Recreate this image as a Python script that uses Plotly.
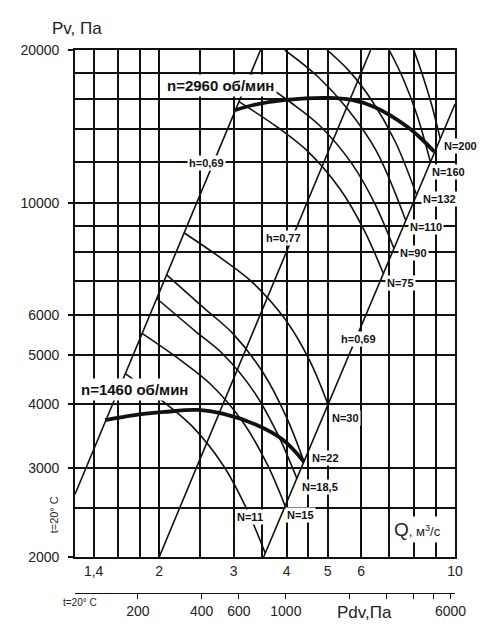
import numpy as np
import plotly.graph_objects as go

# ---------------- axes / ticks ----------------
q_range = [1.265, 10.0]
p_range = [2000, 20000]
q_tick_vals = [1.4, 2, 3, 4, 5, 6, 10]
q_tick_text = ["1,4", "2", "3", "4", "5", "6", "10"]
q_grid_vals = [1.6, 1.8, 2.5, 3.5, 4.5, 7, 8, 9]
p_tick_vals = [2000, 3000, 4000, 5000, 6000, 10000, 20000]
p_tick_text = ["2000", "3000", "4000", "5000", "6000", "10000", "20000"]
p_grid_vals = [2500, 7000, 8000, 9000, 12000, 14000, 16000, 18000]
pdv_range = [100.8, 6300]
pdv_tick_vals = [200, 400, 600, 1000, 6000]
pdv_tick_text = ["200", "400", "600", "1000", "6000"]
pdv_minor_vals = [2000, 3000, 4000, 5000]

# ---------------- fan curves (thick) ----------------
n1460_q = [1.49, 1.75, 2.06, 2.46, 2.84, 3.39, 3.92, 4.40]
n1460_p = [3725, 3810, 3865, 3900, 3830, 3645, 3405, 3080]
n2960_q = [3.03, 3.34, 3.98, 5.04, 5.70, 6.45, 7.73, 8.29, 8.94]
n2960_p = [15230, 15580, 15940, 16090, 15940, 15440, 14100, 13410, 12600]

# ---------------- efficiency lines ----------------
h069_left_q = [1.265, 3.471]
h069_left_p = [2660, 20000]
h077_q = [2.0, 6.32]
h077_p = [2000, 20000]
h069_right_q = [3.53, 10.0]
h069_right_p = [2000, 15650]

# ---------------- power lines N ----------------
n11_q = [1.663, 2.045, 2.388, 2.832, 3.208, 3.56]
n11_p = [4600, 4050, 3627, 3034, 2502, 2037]
n15_q = [1.822, 2.257, 2.650, 3.162, 3.596, 3.97]
n15_p = [5520, 4875, 4378, 3681, 3052, 2520]
n185_q = [1.974, 2.428, 2.835, 3.361, 3.809, 4.23]
n185_p = [6470, 5587, 5018, 4220, 3498, 2857]
n22_q = [2.083, 2.557, 2.984, 3.533, 3.999, 4.40]
n22_p = [7200, 6185, 5521, 4597, 3770, 3080]
n30_q = [2.293, 2.841, 3.336, 3.981, 4.527, 5.01]
n30_p = [8710, 7705, 6940, 5868, 4894, 4000]
n75_q = [3.087, 3.82, 4.49, 5.36, 6.11, 6.78]
n75_p = [15820, 14050, 12620, 10610, 8797, 7230]
n90_q = [3.287, 4.07, 4.78, 5.70, 6.48, 7.175]
n90_p = [17935, 15810, 14210, 11950, 9913, 8120]
n110_q = [3.96, 4.725, 5.55, 6.516, 7.65]
n110_p = [20000, 17770, 15370, 12645, 9218]
n132_q = [4.986, 5.64, 6.377, 7.213, 8.10]
n132_p = [20000, 18130, 15850, 13230, 10400]
n160_q = [6.987, 7.53, 8.12, 8.75]
n160_p = [20000, 17610, 14930, 12020]
n200_q = [7.99, 8.38, 8.796, 9.23]
n200_p = [20000, 17860, 15650, 13360]

power_lines = [
    ("N=11", n11_q, n11_p),
    ("N=15", n15_q, n15_p),
    ("N=18,5", n185_q, n185_p),
    ("N=22", n22_q, n22_p),
    ("N=30", n30_q, n30_p),
    ("N=75", n75_q, n75_p),
    ("N=90", n90_q, n90_p),
    ("N=110", n110_q, n110_p),
    ("N=132", n132_q, n132_p),
    ("N=160", n160_q, n160_p),
    ("N=200", n200_q, n200_p),
]

INK = "#111111"
FONT = "Liberation Sans, Arial, sans-serif"
GRID_W = 1.7
fig = go.Figure()

for name, qs, ps in power_lines:
    fig.add_trace(go.Scatter(x=qs, y=ps, mode="lines", name=name,
                             line=dict(color=INK, width=1.6, shape="spline"),
                             hoverinfo="skip", showlegend=False))

for qs, ps in [(h069_left_q, h069_left_p), (h077_q, h077_p), (h069_right_q, h069_right_p)]:
    fig.add_trace(go.Scatter(x=qs, y=ps, mode="lines",
                             line=dict(color=INK, width=1.6),
                             hoverinfo="skip", showlegend=False))

for qs, ps in [(n1460_q, n1460_p), (n2960_q, n2960_p)]:
    fig.add_trace(go.Scatter(x=qs, y=ps, mode="lines",
                             line=dict(color=INK, width=3.8, shape="spline"),
                             hoverinfo="skip", showlegend=False))

# invisible trace to carry the dynamic-pressure axis
fig.add_trace(go.Scatter(x=[pdv_tick_vals[0], pdv_tick_vals[-1]], y=[3000, 3000],
                         xaxis="x2", yaxis="y", mode="markers",
                         marker=dict(opacity=0), hoverinfo="skip", showlegend=False))

L = np.log10
ann = []
lab_font = dict(family=FONT, size=11, color=INK)

# N labels anchored at the right end of each power line
n_offsets = {
    "N=15": (0, -9), "N=18,5": (3, -9), "N=22": (6, 4), "N=30": (2, -14),
    "N=75": (1, -9), "N=90": (4, -5), "N=110": (2, -6), "N=132": (5, -5),
    "N=160": (0, -10), "N=200": (2, -7),
}
for name, qs, ps in power_lines:
    if name in n_offsets:
        dx, dy = n_offsets[name]
        ann.append(dict(x=L(qs[-1]), y=L(ps[-1]), xref="x", yref="y",
                        text="<b>%s</b>" % name, showarrow=False,
                        xanchor="left", yanchor="middle", xshift=dx, yshift=dy,
                        font=lab_font, bgcolor="white", borderpad=1))
ann.append(dict(x=L(3.27), y=L(2400), xref="x", yref="y", text="<b>N=11</b>",
                showarrow=False, font=lab_font, bgcolor="white", borderpad=1))

for txt, q, p in [("h=0,69", 2.594, 11970), ("h=0,77", 3.94, 8515), ("h=0,69", 5.916, 5383)]:
    ann.append(dict(x=L(q), y=L(p), xref="x", yref="y", text="<b>%s</b>" % txt,
                    showarrow=False, font=lab_font, bgcolor="white", borderpad=1))

big_font = dict(family=FONT, size=15, color=INK)
ann.append(dict(x=L(2.796), y=L(17060), xref="x", yref="y", text="<b>n=2960 об/мин</b>",
                showarrow=False, font=big_font, bgcolor="white", borderpad=2))
ann.append(dict(x=L(1.746), y=L(4270), xref="x", yref="y", text="<b>n=1460 об/мин</b>",
                showarrow=False, font=big_font, bgcolor="white", borderpad=2))

ann.append(dict(x=L(8.15), y=L(2261), xref="x", yref="y",
                text="<span style='font-size:19px'>Q</span>, м<sup>3</sup>/с",
                showarrow=False, bgcolor="white", borderpad=2,
                font=dict(family=FONT, size=13, color="#222")))

txt_font = dict(family=FONT, color="#222")
# axis title above the left border, anchored on the Q axis
ann.append(dict(x=L(1.279), y=1.0405, xref="x", yref="paper", text="Pv, Па",
                showarrow=False, xanchor="center", yanchor="middle",
                font=dict(txt_font, size=17)))
ann.append(dict(x=0.684, y=-0.035, xref="paper", yref="paper", text="Pdv,Па",
                showarrow=False, xanchor="left", yanchor="middle",
                font=dict(txt_font, size=17)))
ann.append(dict(x=-0.036, y=-0.0184, xref="paper", yref="paper", text="t=20° C",
                showarrow=False, xanchor="left", yanchor="middle",
                font=dict(txt_font, size=10)))
ann.append(dict(x=-0.0544, y=0.1436, xref="paper", yref="paper", text="t=20° C",
                showarrow=False, xanchor="center", yanchor="middle", textangle=-90,
                font=dict(txt_font, size=11)))

tick_font = dict(family=FONT, size=14, color="#222")

# the page body adds an 8px offset, so the figure is 8px smaller than the window
fig.update_layout(
    width=492, height=633,
    margin=dict(l=61, r=45, t=42, b=48),
    paper_bgcolor="white", plot_bgcolor="white",
    showlegend=False,
    annotations=ann,
    xaxis=dict(type="log", range=[L(q_range[0]), L(q_range[1])],
               tickmode="array", tickvals=q_tick_vals, ticktext=q_tick_text,
               ticks="", tickfont=tick_font,
               showgrid=True, gridcolor=INK, gridwidth=GRID_W,
               minor=dict(tickmode="array", tickvals=q_grid_vals, showgrid=True,
                          gridcolor=INK, gridwidth=GRID_W, ticks=""),
               showline=True, linecolor=INK, linewidth=1.7, mirror=True,
               zeroline=False, anchor="y"),
    yaxis=dict(type="log", range=[L(p_range[0]), L(p_range[1])],
               domain=[0.0663, 1],
               tickmode="array", tickvals=p_tick_vals, ticktext=p_tick_text,
               ticks="outside", ticklen=5, tickwidth=1.5, tickcolor=INK,
               ticklabelstandoff=6, tickfont=tick_font,
               showgrid=True, gridcolor=INK, gridwidth=GRID_W,
               minor=dict(tickmode="array", tickvals=p_grid_vals, showgrid=True,
                          gridcolor=INK, gridwidth=GRID_W, ticks=""),
               showline=True, linecolor=INK, linewidth=1.7, mirror=True,
               zeroline=False),
    xaxis2=dict(type="log", range=[L(pdv_range[0]), L(pdv_range[1])],
                overlaying="x", anchor="free", position=0, side="bottom",
                tickmode="array", tickvals=pdv_tick_vals, ticktext=pdv_tick_text,
                ticks="outside", ticklen=5, tickwidth=1.3, tickcolor=INK,
                minor=dict(tickmode="array", tickvals=pdv_minor_vals, ticks="outside",
                           ticklen=5, tickwidth=1.3, tickcolor=INK, showgrid=False),
                tickfont=tick_font, showgrid=False,
                showline=True, linecolor=INK, linewidth=1.4, zeroline=False),
)

fig.write_html("out.html")
